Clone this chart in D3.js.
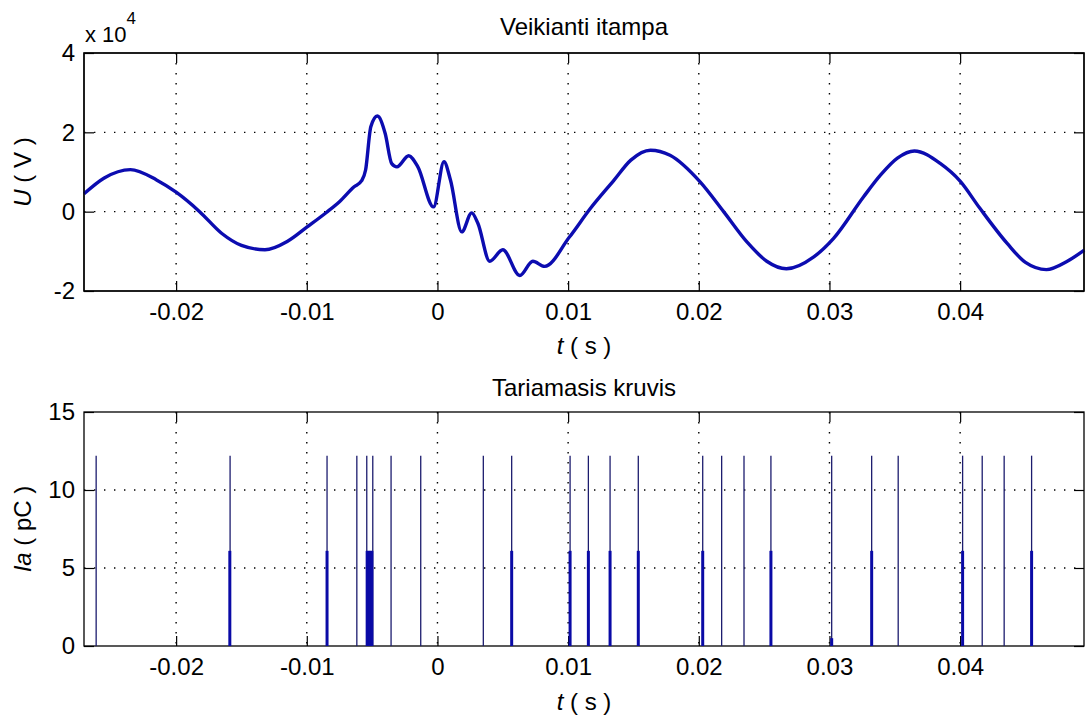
<!DOCTYPE html>
<html>
<head>
<meta charset="utf-8">
<script src="https://cdn.jsdelivr.net/npm/d3@7"></script>
<style>
  body { margin: 0; background: #fff; }
  svg text { font-family: "Liberation Sans", Arial, sans-serif; fill: #000; }
  .tick text { font-size: 24px; }
  .tick line { stroke: #000; stroke-width: 1.2; }
</style>
</head>
<body>
<div id="chart"></div>
<script>
// voltage trace, t in s, U in V
var voltT = [-0.02705, -0.0255, -0.0235, -0.0215, -0.02, -0.0182, -0.0165, -0.015, -0.0132, -0.0115,
  -0.01, -0.0085, -0.0075, -0.0064, -0.0058, -0.0055, -0.0051, -0.0046, -0.0040, -0.0035,
  -0.0031, -0.0022, -0.0015, -0.0003, 0.0005, 0.0010, 0.00186, 0.00262, 0.0031, 0.0040,
  0.0050, 0.0063, 0.0073, 0.0082, 0.0101, 0.0117, 0.0135, 0.0148, 0.0163, 0.0178,
  0.0201, 0.0219, 0.0237, 0.0252, 0.0267, 0.0288, 0.0303, 0.0326, 0.0339, 0.0352,
  0.0365, 0.0385, 0.0400, 0.0415, 0.0436, 0.0450, 0.0466, 0.0482, 0.0495];
var voltU = [4500, 8500, 10600, 8000, 4900, 0, -5500, -8500, -9600, -7500,
  -3900, -200, 2500, 6200, 7800, 10500, 21400, 24100, 19700, 12100,
  11300, 14100, 11300, 1200, 12600, 7900, -5100, -300, -3000, -12500,
  -9600, -16100, -12500, -13800, -6400, 800, 7900, 13000, 15500, 14200,
  7500, 0, -7700, -12500, -14400, -11400, -6800, 3700, 9200, 13500,
  15300, 12100, 7700, 900, -8000, -12800, -14600, -12500, -9700];

// apparent charge pulses, t in s, q in pC
var pulseT = [-0.02612, -0.01587, -0.00845, -0.00617, -0.00541, -0.00495, -0.00355, -0.00128,
  0.00351, 0.00568, 0.01015, 0.01155, 0.01321, 0.01537, 0.02030, 0.02175, 0.02346, 0.02552,
  0.03017, 0.03323, 0.03526, 0.04019, 0.04169, 0.04337, 0.04547];
var pulseQ = [12.2, 12.2, 12.2, 12.2, 12.2, 12.2, 12.2, 12.2,
  12.2, 12.2, 12.2, 12.2, 12.2, 12.2, 12.2, 12.2, 12.2, 12.2,
  12.2, 12.2, 12.2, 12.2, 12.2, 12.2, 12.2];
var lowT = [-0.01589, -0.00845, -0.00538, -0.00526, -0.00514, -0.00502, 0.00568, 0.01015, 0.01155,
  0.01321, 0.01537, 0.02030, 0.02552, 0.03017, 0.03323, 0.04019, 0.04547];
var lowQ = [6.1, 6.1, 6.1, 6.1, 6.1, 6.1, 6.1, 6.1, 6.1,
  6.1, 6.1, 6.1, 6.1, 0.5, 6.1, 6.1, 6.1];

var xTicks = [-0.02, -0.01, 0, 0.01, 0.02, 0.03, 0.04];
var uTicks = [-20000, 0, 20000, 40000];
var qTicks = [0, 5, 10, 15];

var W = 1086, H = 722;
var left = 84, right = 1084;

var svg = d3.select("#chart").append("svg")
  .attr("width", W)
  .attr("height", H);

var x = d3.scaleLinear().domain([-0.02705, 0.04948]).range([left, right]);

// matlab style labels, plain hyphen for minus
function fmtX(d) {
  if (d === 0) return "0";
  return (d < 0 ? "-" : "") + Math.abs(d).toFixed(2);
}
function fmtPlain(d) {
  return (d < 0 ? "-" : "") + Math.abs(d);
}

function drawFrame(g, y, top, bottom, yTicks, yFmt) {
  // grid
  g.append("g").selectAll("line.vg")
    .data(xTicks).enter().append("line")
    .attr("x1", d => x(d)).attr("x2", d => x(d))
    .attr("y1", top).attr("y2", bottom)
    .attr("stroke", "#000").attr("stroke-width", 1.4)
    .attr("stroke-dasharray", "1.4 8.6");
  g.append("g").selectAll("line.hg")
    .data(yTicks.slice(1, -1)).enter().append("line")
    .attr("x1", left).attr("x2", right)
    .attr("y1", d => y(d)).attr("y2", d => y(d))
    .attr("stroke", "#000").attr("stroke-width", 1.4)
    .attr("stroke-dasharray", "1.4 8.6");

  g.append("g")
    .attr("transform", "translate(0," + bottom + ")")
    .call(d3.axisBottom(x).tickValues(xTicks).tickFormat(fmtX)
      .tickSizeInner(-10).tickSizeOuter(0).tickPadding(12))
    .call(a => a.select(".domain").remove());
  g.append("g")
    .attr("transform", "translate(0," + top + ")")
    .call(d3.axisTop(x).tickValues(xTicks).tickFormat("").tickSizeInner(-10).tickSizeOuter(0))
    .call(a => a.select(".domain").remove());
  g.append("g")
    .attr("transform", "translate(" + left + ",0)")
    .call(d3.axisLeft(y).tickValues(yTicks).tickFormat(yFmt).tickSizeInner(-10).tickSizeOuter(0).tickPadding(9))
    .call(a => a.select(".domain").remove());
  g.append("g")
    .attr("transform", "translate(" + right + ",0)")
    .call(d3.axisRight(y).tickValues(yTicks).tickFormat("").tickSizeInner(-10).tickSizeOuter(0))
    .call(a => a.select(".domain").remove());

  g.append("rect")
    .attr("x", left).attr("y", top)
    .attr("width", right - left).attr("height", bottom - top)
    .attr("fill", "none").attr("stroke", "#000").attr("stroke-width", 1.3);
}

// ---- top plot: voltage
var top1 = 53, bot1 = 291;
var yU = d3.scaleLinear().domain([-20000, 40000]).range([bot1, top1]);
var g1 = svg.append("g");
drawFrame(g1, yU, top1, bot1, uTicks, d => fmtPlain(d / 10000));

var voltData = voltT.map((t, i) => ({ t: t, u: voltU[i] }));
g1.append("path")
  .datum(voltData)
  .attr("fill", "none")
  .attr("stroke", "#0c0cb0")
  .attr("stroke-width", 3.4)
  .attr("stroke-linejoin", "round")
  .attr("d", d3.line().x(d => x(d.t)).y(d => yU(d.u)).curve(d3.curveMonotoneX));
// frame again over the curve ends
g1.append("rect")
  .attr("x", left).attr("y", top1)
  .attr("width", right - left).attr("height", bot1 - top1)
  .attr("fill", "none").attr("stroke", "#000").attr("stroke-width", 1.3);

g1.append("text")
  .attr("x", (left + right) / 2).attr("y", 35)
  .attr("text-anchor", "middle").style("font-size", "24px")
  .text("Veikianti itampa");
var mult = g1.append("text").attr("x", 85).attr("y", 42).style("font-size", "22px");
mult.append("tspan").text("x 10");
mult.append("tspan").attr("dy", -18).style("font-size", "17px").text("4");

var xl1 = g1.append("text").attr("x", (left + right) / 2).attr("y", 354)
  .attr("text-anchor", "middle").style("font-size", "24px");
xl1.append("tspan").style("font-style", "italic").text("t");
xl1.append("tspan").text(" ( s )");

var yl1 = g1.append("text")
  .attr("transform", "translate(31," + ((top1 + bot1) / 2) + ") rotate(-90)")
  .attr("text-anchor", "middle").style("font-size", "24px");
yl1.append("tspan").style("font-style", "italic").text("U");
yl1.append("tspan").text(" ( V )");

// ---- bottom plot: apparent charge
var top2 = 412, bot2 = 646;
var yQ = d3.scaleLinear().domain([0, 15]).range([bot2, top2]);
var g2 = svg.append("g");
drawFrame(g2, yQ, top2, bot2, qTicks, fmtPlain);

g2.append("g").selectAll("line")
  .data(pulseT).enter().append("line")
  .attr("x1", d => x(d)).attr("x2", d => x(d))
  .attr("y1", yQ(0)).attr("y2", (d, i) => yQ(pulseQ[i]))
  .attr("stroke", "#1c1c6e").attr("stroke-width", 1.3);
g2.append("g").selectAll("line")
  .data(lowT).enter().append("line")
  .attr("x1", d => x(d)).attr("x2", d => x(d))
  .attr("y1", yQ(0)).attr("y2", (d, i) => yQ(lowQ[i]))
  .attr("stroke", "#0a0aa6").attr("stroke-width", 3);

g2.append("text")
  .attr("x", (left + right) / 2).attr("y", 396)
  .attr("text-anchor", "middle").style("font-size", "24px")
  .text("Tariamasis kruvis");

var xl2 = g2.append("text").attr("x", (left + right) / 2).attr("y", 710)
  .attr("text-anchor", "middle").style("font-size", "24px");
xl2.append("tspan").style("font-style", "italic").text("t");
xl2.append("tspan").text(" ( s )");

var yl2 = g2.append("text")
  .attr("transform", "translate(31," + ((top2 + bot2) / 2) + ") rotate(-90)")
  .attr("text-anchor", "middle").style("font-size", "24px");
yl2.append("tspan").style("font-style", "italic").text("Ia");
yl2.append("tspan").text(" ( pC )");
</script>
</body>
</html>
